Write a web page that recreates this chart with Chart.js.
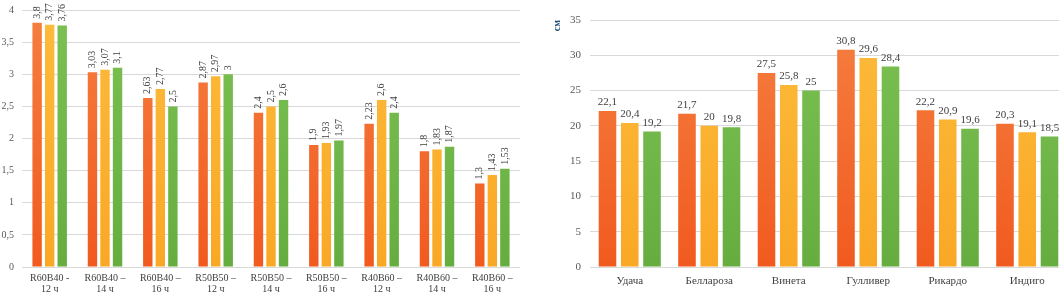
<!DOCTYPE html>
<html>
<head>
<meta charset="utf-8">
<script src="https://cdn.jsdelivr.net/npm/chart.js@4.4.1/dist/chart.umd.min.js"></script>
<style>
  html, body { margin: 0; padding: 0; background: #fff; overflow: hidden; }
  #wrap { position: relative; width: 1059px; height: 296px; overflow: hidden; }
  .box { position: absolute; top: 0; height: 296px; }
  #leftBox { left: 0; width: 520px; }
  #rightBox { left: 527px; width: 540px; }
</style>
</head>
<body>
<div id="wrap">
  <div class="box" id="leftBox"><canvas id="leftChart"></canvas></div>
  <div class="box" id="rightBox"><canvas id="rightChart"></canvas></div>
</div>
<script>
// left chart data
const leftCategories = [
  ['R60B40 -', '12 ч'], ['R60B40 –', '14 ч'], ['R60B40 –', '16 ч'],
  ['R50B50 –', '12 ч'], ['R50B50 –', '14 ч'], ['R50B50 –', '16 ч'],
  ['R40B60 –', '12 ч'], ['R40B60 –', '14 ч'], ['R40B60 –', '16 ч']
]
const leftSeries1 = [3.8, 3.03, 2.63, 2.87, 2.4, 1.9, 2.23, 1.8, 1.3]
const leftSeries2 = [3.77, 3.07, 2.77, 2.97, 2.5, 1.93, 2.6, 1.83, 1.43]
const leftSeries3 = [3.76, 3.1, 2.5, 3, 2.6, 1.97, 2.4, 1.87, 1.53]
const leftMax = 4, leftStep = 0.5

// right chart data
const rightCategories = ['Удача', 'Беллароза', 'Винета', 'Гулливер', 'Рикардо', 'Индиго']
const rightSeries1 = [22.1, 21.7, 27.5, 30.8, 22.2, 20.3]
const rightSeries2 = [20.4, 20, 25.8, 29.6, 20.9, 19.1]
const rightSeries3 = [19.2, 19.8, 25, 28.4, 19.6, 18.5]
const rightMax = 35, rightStep = 5
const rightAxisTitle = 'см'

const SERIF = '"Liberation Serif", "Times New Roman", serif'

// gradient colors top -> bottom
const palette = [
  ['#f57f40', '#f15a1f'],
  ['#fdbb3c', '#f9a825'],
  ['#7cc152', '#66ad40']
]

function barFill(i) {
  return function (ctx) {
    const area = ctx.chart.chartArea
    if (!area) return palette[i][1]
    const g = ctx.chart.ctx.createLinearGradient(0, area.top, 0, area.bottom)
    g.addColorStop(0, palette[i][0])
    g.addColorStop(1, palette[i][1])
    return g
  }
}

function fmt(v) { return String(v).replace('.', ',') }

// draws the value over each bar
const valueLabels = {
  id: 'valueLabels',
  afterDatasetsDraw(chart, args, opts) {
    const ctx = chart.ctx
    ctx.save()
    ctx.fillStyle = '#404040'
    ctx.font = opts.size + 'px ' + SERIF
    chart.data.datasets.forEach(function (ds, di) {
      chart.getDatasetMeta(di).data.forEach(function (bar, i) {
        const txt = fmt(ds.data[i])
        if (opts.rotate) {
          ctx.save()
          ctx.translate(bar.x, bar.y - 4)
          ctx.rotate(-Math.PI / 2)
          ctx.textAlign = 'left'
          ctx.textBaseline = 'middle'
          ctx.fillText(txt, 0, 0)
          ctx.restore()
        } else {
          ctx.textAlign = 'center'
          ctx.textBaseline = 'bottom'
          ctx.fillText(txt, bar.x, bar.y - 3)
        }
      })
    })
    ctx.restore()
  }
}

function makeChart(el, cats, series, cfg) {
  return new Chart(document.getElementById(el), {
    type: 'bar',
    data: {
      labels: cats,
      datasets: series.map(function (s, i) {
        return {
          data: s,
          backgroundColor: barFill(i),
          borderWidth: 0,
          barPercentage: cfg.barPct,
          categoryPercentage: cfg.catPct
        }
      })
    },
    options: {
      responsive: true,
      maintainAspectRatio: false,
      animation: false,
      layout: { padding: { top: cfg.padTop, right: 0, bottom: 0, left: 0 } },
      plugins: {
        legend: { display: false },
        tooltip: { enabled: false },
        valueLabels: { rotate: cfg.rotate, size: cfg.labelSize }
      },
      scales: {
        x: {
          grid: { display: false, drawTicks: false },
          border: { display: false },
          ticks: {
            color: '#404040',
            padding: cfg.xPad,
            maxRotation: 0,
            autoSkip: false,
            font: { family: SERIF, size: cfg.fontSize, lineHeight: 1.1 }
          },
          afterFit: function (scale) { scale.height = 296 - 267 }
        },
        y: {
          min: 0,
          max: cfg.max,
          grid: { color: '#d9d9d9', drawTicks: false },
          border: { display: false },
          ticks: {
            stepSize: cfg.step,
            color: '#595959',
            padding: cfg.yPad,
            font: { family: SERIF, size: cfg.fontSize },
            callback: function (v) { return fmt(v) }
          },
          title: cfg.title ? {
            display: true,
            text: cfg.title,
            align: 'end',
            color: '#1f4e79',
            padding: { top: 24, bottom: 0 },
            font: { family: SERIF, size: 10, weight: 'bold' }
          } : { display: false },
          afterFit: function (scale) {
            scale.width = cfg.yWidth
            scale.paddingTop = 0
            scale.paddingBottom = 0
          }
        }
      }
    },
    plugins: [valueLabels]
  })
}

makeChart('leftChart', leftCategories, [leftSeries1, leftSeries2, leftSeries3], {
  max: leftMax, step: leftStep, barPct: 0.75, catPct: 0.68,
  rotate: true, labelSize: 10, fontSize: 10, xPad: 6, yPad: 8,
  yWidth: 22, padTop: 10
})

makeChart('rightChart', rightCategories, [rightSeries1, rightSeries2, rightSeries3], {
  max: rightMax, step: rightStep, barPct: 0.79, catPct: 0.84,
  rotate: false, labelSize: 11, fontSize: 11, xPad: 8, yPad: 9,
  yWidth: 63, padTop: 20, title: rightAxisTitle
})
</script>
</body>
</html>
